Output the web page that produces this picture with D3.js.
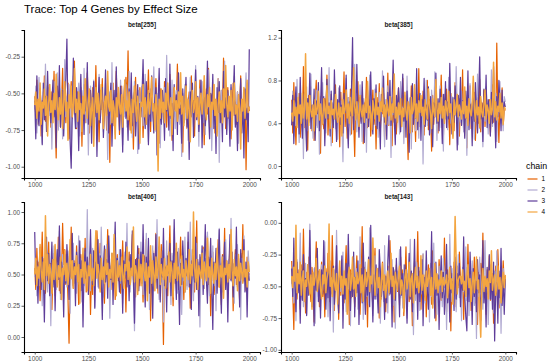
<!DOCTYPE html>
<html><head><meta charset="utf-8">
<script src="https://cdn.jsdelivr.net/npm/d3@7"></script>
<style>body{margin:0;background:#fff}svg{display:block}text{font-family:"Liberation Sans",Arial,sans-serif}</style>
</head><body><svg id="c" width="550" height="363"></svg>
<script>
// ---- data ----
const chartTitle = "Trace: Top 4 Genes by Effect Size";
const parameters = ["beta[255]", "beta[385]", "beta[406]", "beta[143]"];
const chains = ["1", "2", "3", "4"];
const chainColors = ["#e66101", "#b2abd2", "#5e3c99", "#f3a540"];
const iterationRange = [1000, 2000];
const xTicks = [1000, 1250, 1500, 1750, 2000];
const yTicks255 = [-1.00, -0.75, -0.50, -0.25];
const yTicks385 = [0.0, 0.4, 0.8, 1.2];
const yTicks406 = [0.00, 0.25, 0.50, 0.75, 1.00];
const yTicks143 = [-1.00, -0.75, -0.50, -0.25, 0.00];
const yLimits255 = [-1.077, -0.068];
const yLimits385 = [-0.112, 1.272];
const yLimits406 = [-0.12, 1.08];
const yLimits143 = [-1.017, 0.164];

const beta255_c1 = [-0.52,-0.66,-0.41,-0.71,-0.58,-0.47,-0.79,-0.55,-0.62,-0.38,-0.69,-0.50,-0.44,-0.64,-0.57,-0.73,-0.49,-0.61,-0.35,-0.67,
-0.94,-0.51,-0.60,-0.45,-0.73,-0.57,-0.33,-0.64,-0.50,-0.70,-0.55,-0.43,-0.81,-0.59,-0.42,-0.67,-0.55,-0.28,-0.62,-0.74,
-0.49,-0.58,-0.65,-0.46,-0.86,-0.53,-0.44,-0.70,-0.61,-0.36,-0.57,-0.77,-0.50,-0.63,-0.46,-0.71,-0.59,-0.31,-0.66,-0.54,
-0.83,-0.48,-0.61,-0.40,-0.68,-0.56,-0.52,-0.75,-0.45,-0.60,-0.97,-0.52,-0.64,-0.43,-0.72,-0.59,-0.35,-0.61,-0.50,-0.78,
-0.57,-0.45,-0.69,-0.53,-0.62,-0.39,-0.58,-0.21,-0.63,-0.75,-0.48,-0.60,-0.88,-0.54,-0.39,-0.66,-0.57,-0.71,-0.46,-0.62,
-0.52,-0.80,-0.58,-0.43,-0.67,-0.55,-0.34,-0.63,-0.76,-0.49,-0.59,-0.72,-0.51,-0.40,-0.65,-0.58,-0.84,-0.47,-0.61,-0.55,
-0.68,-0.42,-0.57,-0.73,-0.50,-0.64,-0.37,-0.59,-0.82,-0.53,-0.46,-0.66,-0.56,-0.30,-0.61,-0.70,-0.48,-0.58,-0.90,-0.52,
-0.63,-0.44,-0.74,-0.57,-0.49,-0.67,-0.38,-0.60,-0.55,-0.79,-0.45,-0.62,-0.53,-0.71,-0.41,-0.58,-0.66,-0.50,-0.85,-0.56,
-0.47,-0.64,-0.33,-0.59,-0.72,-0.51,-0.61,-0.44,-0.77,-0.54,-0.62,-0.40,-0.57,-0.69,-0.48,-0.63,-0.26,-0.55,-0.74,-0.58,
-0.46,-0.67,-0.52,-0.81,-0.60,-0.43,-0.65,-0.56,-0.71,-0.49,-0.59,-0.62,-0.38,-0.66,-0.54,-0.75,-0.47,-1.02,-0.61,-0.57,-0.62];
const beta255_c2 = [-0.61,-0.45,-0.77,-0.53,-0.39,-0.68,-0.57,-0.84,-0.49,-0.63,-0.30,-0.58,-0.72,-0.46,-0.65,-0.55,-0.88,-0.51,-0.42,-0.69,
-0.60,-0.36,-0.75,-0.54,-0.62,-0.47,-0.81,-0.58,-0.27,-0.66,-0.52,-0.71,-0.44,-0.59,-0.90,-0.56,-0.38,-0.64,-0.50,-0.73,
-0.57,-0.43,-0.79,-0.61,-0.48,-0.67,-0.33,-0.58,-0.70,-0.53,-0.92,-0.60,-0.45,-0.74,-0.56,-0.41,-0.65,-0.51,-0.82,-0.59,
-0.37,-0.68,-0.54,-0.47,-0.76,-0.62,-0.43,-0.57,-0.95,-0.63,-0.49,-0.71,-0.29,-0.60,-0.55,-0.78,-0.46,-0.64,-0.52,-0.69,
-0.41,-0.58,-0.85,-0.53,-0.66,-0.44,-0.73,-0.57,-0.35,-0.62,-0.50,-0.80,-0.59,-0.42,-0.68,-0.56,-0.91,-0.48,-0.63,-0.54,
-0.45,-0.72,-0.58,-0.37,-0.65,-0.51,-0.83,-0.60,-0.47,-0.69,-0.55,-0.32,-0.63,-0.76,-0.50,-0.58,-0.43,-0.87,-0.61,-0.53,
-0.70,-0.46,-0.57,-0.24,-0.64,-0.52,-0.79,-0.59,-0.41,-0.67,-0.55,-0.74,-0.48,-0.62,-0.36,-0.71,-0.56,-0.93,-0.50,-0.60,
-0.44,-0.68,-0.53,-0.82,-0.58,-0.39,-0.65,-0.49,-0.73,-0.57,-0.31,-0.63,-0.54,-0.86,-0.47,-0.61,-0.42,-0.70,-0.56,-0.78,
-0.51,-0.60,-0.34,-0.66,-0.52,-0.89,-0.58,-0.45,-0.72,-0.55,-0.64,-0.40,-0.97,-0.59,-0.48,-0.69,-0.53,-0.28,-0.62,-0.75,
-0.50,-0.57,-0.81,-0.46,-0.65,-0.54,-0.38,-0.71,-0.59,-0.49,-0.84,-0.61,-0.43,-0.67,-0.55,-0.77,-0.52,-0.36,-0.63,-0.58,-0.60];
const beta255_c3 = [-0.55,-0.81,-0.38,-0.64,-0.72,-0.47,-0.59,-0.85,-0.43,-0.68,-0.52,-0.76,-0.35,-0.62,-0.49,-0.70,-0.56,-0.41,-0.66,-0.54,
-0.87,-0.45,-0.61,-0.31,-0.73,-0.58,-0.48,-0.79,-0.57,-0.40,-0.13,-0.68,-0.55,-0.83,-1.01,-0.63,-0.26,-0.60,-0.74,-0.46,
-0.58,-0.89,-0.53,-0.37,-0.67,-0.55,-0.78,-0.44,-0.62,-0.29,-0.71,-0.57,-0.48,-0.84,-0.60,-0.42,-0.66,-0.52,-0.93,-0.58,
-0.39,-0.70,-0.55,-0.46,-0.80,-0.61,-0.34,-0.64,-0.50,-0.77,-0.57,-0.43,-0.86,-0.59,-0.48,-0.69,-0.32,-0.63,-0.54,-0.75,
-0.45,-0.60,-0.90,-0.53,-0.41,-0.67,-0.58,-0.82,-0.47,-0.62,-0.36,-0.72,-0.55,-0.49,-0.79,-0.61,-0.44,-0.88,-0.57,-0.66,
-0.51,-0.27,-0.63,-0.74,-0.42,-0.58,-0.85,-0.50,-0.69,-0.38,-0.60,-0.77,-0.53,-0.46,-0.92,-0.56,-0.33,-0.65,-0.71,-0.48,
-0.59,-0.82,-0.40,-0.62,-0.54,-0.75,-0.30,-0.67,-0.57,-0.89,-0.44,-0.61,-0.51,-0.78,-0.36,-0.64,-0.58,-0.84,-0.47,-0.70,
-0.55,-0.39,-0.73,-0.60,-0.95,-0.49,-0.66,-0.43,-0.80,-0.56,-0.34,-0.68,-0.52,-0.76,-0.62,-0.41,-0.87,-0.58,-0.45,-0.72,
-0.57,-0.28,-0.64,-0.81,-0.50,-0.60,-0.37,-0.74,-0.54,-0.91,-0.46,-0.63,-0.42,-0.70,-0.59,-0.83,-0.35,-0.66,-0.53,-0.78,
-0.48,-0.61,-0.86,-0.44,-0.69,-0.56,-0.31,-0.73,-0.58,-0.89,-0.51,-0.64,-0.40,-0.77,-0.55,-0.94,-0.47,-0.68,-0.60,-0.83,-0.20];
const beta255_c4 = [-0.58,-0.49,-0.67,-0.54,-0.62,-0.43,-0.71,-0.56,-0.60,-0.47,-0.65,-0.52,-0.79,-0.57,-0.44,-0.63,-0.55,-0.70,-0.50,-0.61,
-0.37,-0.59,-0.68,-0.53,-0.64,-0.48,-0.74,-0.57,-0.42,-0.62,-0.56,-0.82,-0.51,-0.60,-0.45,-0.66,-0.58,-0.33,-0.63,-0.54,
-0.69,-0.49,-0.61,-0.57,-0.76,-0.52,-0.64,-0.40,-0.59,-0.67,-0.55,-0.47,-0.72,-0.60,-0.53,-0.86,-0.58,-0.46,-0.63,-0.50,
-0.68,-0.56,-0.44,-0.61,-0.74,-0.57,-0.52,-0.65,-0.35,-0.59,-0.62,-0.48,-0.70,-0.55,-0.60,-0.81,-0.53,-0.66,-0.46,-0.58,
-0.64,-0.51,-0.73,-0.57,-0.41,-0.62,-0.55,-0.68,-0.49,-0.60,-0.77,-0.54,-0.63,-0.45,-0.58,-0.69,-0.52,-0.61,-0.84,-0.56,
-0.59,-0.44,-0.66,-0.53,-0.71,-0.58,-0.48,-0.64,-0.55,-0.39,-0.62,-0.57,-0.75,-0.51,-0.60,-1.03,-0.54,-0.67,-0.47,-0.63,
-0.56,-0.70,-0.50,-0.61,-0.43,-0.58,-0.65,-0.53,-0.78,-0.57,-0.46,-0.62,-0.55,-0.69,-0.49,-0.60,-0.36,-0.64,-0.52,-0.72,
-0.58,-0.45,-0.67,-0.54,-0.61,-0.83,-0.56,-0.48,-0.63,-0.59,-0.42,-0.66,-0.53,-0.71,-0.57,-0.50,-0.64,-0.55,-0.38,-0.62,
-0.68,-0.51,-0.59,-0.46,-0.73,-0.56,-0.61,-0.44,-0.65,-0.54,-0.79,-0.58,-0.49,-0.63,-0.55,-0.70,-0.47,-0.60,-0.31,-0.57,
-0.66,-0.52,-0.62,-0.48,-0.75,-0.56,-0.43,-0.64,-0.58,-0.69,-0.51,-0.60,-0.88,-0.54,-0.62,-0.46,-0.67,-0.57,-0.41,-0.63,-0.59];

const beta385_c1 = [0.62,0.31,0.78,0.45,0.20,0.55,0.39,0.68,0.27,0.50,0.41,0.93,0.36,0.59,0.48,0.15,0.66,0.43,0.74,0.33,
0.52,0.24,0.61,0.80,0.38,0.47,0.57,0.12,0.70,0.44,0.35,0.63,0.49,0.85,0.29,0.54,0.41,0.67,0.22,0.58,
0.46,0.76,0.32,0.60,0.51,0.18,0.69,0.40,0.57,0.88,0.37,0.53,0.26,0.64,0.45,0.72,0.30,0.56,0.43,0.09,
0.61,0.48,0.79,0.34,0.55,0.42,0.66,0.21,0.59,0.47,0.83,0.36,0.52,0.62,0.28,0.50,0.71,0.39,0.57,0.16,
0.64,0.44,0.77,0.33,0.58,0.49,0.68,0.25,0.53,0.42,0.87,0.38,0.60,0.47,0.19,0.65,0.41,0.56,0.30,0.52,
0.73,0.35,0.59,0.46,0.82,0.27,0.54,0.63,0.40,0.06,0.57,0.45,0.75,0.32,0.61,0.50,0.23,0.67,0.43,0.91,
0.37,0.55,0.48,0.70,0.29,0.58,0.44,0.80,0.34,0.62,0.51,0.14,0.66,0.39,0.57,0.74,0.46,0.31,0.60,0.53,
0.85,0.41,0.26,0.64,0.49,0.72,0.36,0.56,0.20,0.68,0.45,0.59,0.33,0.78,0.52,0.42,0.63,0.28,0.57,0.47,
0.90,0.38,0.61,0.50,0.17,0.66,0.43,0.75,0.35,0.58,0.46,0.69,0.24,0.55,0.64,0.40,0.81,0.32,0.59,0.48,
0.71,0.37,0.62,0.53,0.44,0.62,0.29,0.56,0.76,0.41,0.58,0.34,1.15,0.49,0.22,0.60,0.45,0.73,0.38,0.54,0.52];
const beta385_c2 = [0.45,0.70,0.28,0.57,0.38,0.81,0.50,0.22,0.63,0.42,0.55,0.07,0.67,0.46,0.74,0.33,0.58,0.41,0.86,0.49,
0.26,0.60,0.44,0.71,0.36,0.53,0.11,0.65,0.48,0.78,0.40,0.56,0.31,0.62,0.45,0.92,0.51,0.19,0.59,0.43,
0.68,0.35,0.54,0.25,0.73,0.47,0.61,0.39,0.04,0.57,0.50,0.82,0.37,0.64,0.46,0.29,0.70,0.52,0.41,0.95,
0.55,0.32,0.60,0.44,0.76,0.49,0.23,0.63,0.40,0.58,0.13,0.66,0.47,0.85,0.53,0.34,0.61,0.45,0.72,0.38,
0.56,0.27,0.69,0.50,0.43,0.89,0.54,0.18,0.62,0.46,0.75,0.39,0.58,0.08,0.64,0.48,0.71,0.35,0.57,0.42,
0.60,0.30,0.79,0.47,0.55,0.21,0.66,0.44,0.84,0.51,0.37,0.63,0.16,0.58,0.45,0.73,0.33,0.61,0.49,0.26,
0.68,0.42,0.56,0.02,0.64,0.50,0.80,0.38,0.59,0.46,0.31,0.71,0.53,0.43,0.88,0.57,0.24,0.62,0.48,0.75,
0.36,0.55,0.14,0.67,0.44,0.60,0.34,0.83,0.52,0.40,0.65,0.28,0.58,0.47,0.93,0.54,0.20,0.63,0.41,0.70,
0.49,0.32,0.61,0.56,0.10,0.66,0.45,0.77,0.39,0.59,0.51,0.25,0.69,0.43,0.86,0.55,0.35,0.62,0.47,0.18,
0.64,0.42,0.74,0.53,0.30,0.60,0.48,0.90,0.37,0.57,0.44,0.68,0.23,0.61,0.50,0.79,0.40,0.56,0.33,0.65,0.60];
const beta385_c3 = [0.38,0.66,0.21,0.55,0.74,0.43,0.60,0.30,0.83,0.47,0.26,0.58,0.69,0.40,0.14,0.63,0.51,0.87,0.35,0.57,
0.45,0.72,0.24,0.61,0.49,0.78,0.33,0.56,0.92,0.42,0.65,0.19,0.53,0.81,0.44,0.59,0.28,0.70,0.48,0.36,
0.90,0.52,0.23,0.62,0.46,0.75,0.39,0.57,0.31,0.68,0.50,0.85,0.41,0.17,0.60,0.47,0.73,1.20,0.34,0.58,
0.44,0.95,0.53,0.27,0.64,0.40,0.79,0.49,0.22,0.61,0.45,0.71,0.37,0.56,0.88,0.43,0.30,0.63,0.51,0.76,
0.35,0.59,0.46,0.16,0.67,0.52,0.84,0.41,0.57,0.25,0.69,0.48,0.80,0.38,0.62,0.99,0.44,0.20,0.66,0.50,
0.73,0.55,0.32,0.61,0.86,0.42,0.58,0.27,0.70,0.47,0.13,0.64,0.53,0.77,0.39,0.60,0.45,0.91,0.34,0.56,
0.68,0.24,0.62,0.49,0.82,0.37,0.57,0.43,0.74,0.29,0.65,0.51,0.18,0.59,0.46,0.87,0.40,0.63,0.33,0.72,
0.54,0.21,0.67,0.48,0.79,0.36,0.60,0.44,0.96,0.52,0.30,0.64,0.41,0.75,0.57,0.15,0.66,0.47,0.83,0.38,
0.61,0.50,0.26,0.70,0.45,0.89,0.34,0.58,0.53,0.19,0.68,0.42,0.78,0.49,0.31,0.63,1.02,0.44,0.59,0.23,
0.72,0.47,0.85,0.36,0.62,0.55,0.28,0.69,0.40,0.93,0.51,0.17,0.65,0.46,0.80,0.58,0.33,0.71,0.43,0.60,0.55];
const beta385_c4 = [0.50,0.42,0.61,0.47,0.55,0.36,0.64,0.49,0.57,0.40,0.68,0.45,0.53,1.05,0.44,0.59,0.38,0.66,0.51,0.46,
0.57,0.33,0.62,0.48,0.54,0.70,0.43,0.58,0.47,0.39,0.63,0.52,0.45,0.75,0.49,0.56,0.35,0.61,0.48,0.53,
0.44,0.67,0.50,0.41,0.59,0.46,0.55,0.28,0.62,0.49,0.53,0.71,0.45,0.58,0.40,0.64,0.51,0.47,0.92,0.55,
0.43,0.60,0.48,0.37,0.66,0.52,0.46,0.57,0.41,0.63,0.50,0.79,0.45,0.56,0.49,0.34,0.61,0.53,0.44,0.68,
0.48,0.55,0.42,0.60,0.51,0.73,0.46,0.57,0.39,0.62,0.52,0.47,0.65,0.43,0.58,0.50,0.86,0.45,0.55,0.41,
0.59,0.48,0.63,0.37,0.54,0.46,0.69,0.51,0.43,0.60,0.56,0.31,0.64,0.49,0.53,0.76,0.45,0.58,0.42,0.61,
0.50,0.66,0.47,0.55,0.39,0.62,0.52,0.44,0.72,0.57,0.48,0.35,0.63,0.51,0.46,0.81,0.54,0.42,0.59,0.49,
0.64,0.45,0.56,0.40,0.61,0.53,0.47,0.70,0.50,0.58,0.43,0.26,0.62,0.48,0.55,0.67,0.46,0.57,0.52,0.44,
0.60,0.49,0.74,0.45,0.56,0.38,0.63,0.51,0.47,0.59,0.84,0.53,0.42,0.61,0.48,0.55,0.36,0.65,0.50,0.46,
0.58,0.71,0.44,0.57,0.52,0.40,0.62,0.48,0.54,0.97,0.46,0.60,0.43,0.56,0.51,0.68,0.45,0.59,0.39,0.55,0.53];

const beta406_c1 = [0.55,0.38,0.71,0.46,0.60,0.29,0.52,0.84,0.43,0.63,0.35,0.57,0.48,0.76,0.40,0.59,0.22,0.51,0.67,0.33,
0.54,0.45,0.80,0.37,0.62,0.49,0.91,0.58,0.70,0.42,0.56,0.31,-0.05,0.47,0.88,0.53,0.39,0.61,0.44,0.73,
0.50,0.26,0.57,0.66,0.41,0.59,0.48,0.79,0.36,0.55,0.46,0.63,0.18,0.52,0.34,0.69,0.43,0.58,0.85,0.61,
0.49,0.75,0.40,0.56,0.47,0.27,0.64,0.51,0.86,0.44,0.57,0.38,0.62,0.48,0.72,0.30,0.54,0.66,0.45,0.59,
0.35,0.51,0.77,0.43,0.60,0.20,0.56,0.47,0.68,0.39,0.58,0.82,0.46,0.53,0.32,0.63,0.49,0.71,0.41,0.57,
0.50,0.28,0.65,0.44,0.78,0.37,0.55,0.61,0.13,0.52,0.69,0.42,0.58,0.83,0.47,0.35,0.62,0.50,0.74,0.40,
-0.06,0.57,0.45,0.67,0.33,0.60,0.89,0.48,0.54,0.25,0.63,0.43,0.71,0.52,0.38,0.59,0.80,0.46,0.56,0.30,
0.65,0.49,0.41,0.76,0.55,0.23,0.61,0.47,0.69,0.36,0.58,0.93,0.44,0.53,0.31,0.64,0.50,0.72,0.39,0.57,
0.47,0.81,0.42,0.60,0.17,0.55,0.68,0.45,0.34,0.62,0.51,0.78,0.40,0.57,0.26,0.66,0.48,0.87,0.43,0.59,
0.36,0.53,0.74,0.46,0.61,0.21,0.56,0.70,0.42,0.63,0.49,0.29,0.67,0.52,0.90,0.45,0.58,0.37,0.64,0.51,0.50];
const beta406_c2 = [0.48,0.62,0.33,0.57,0.41,0.70,0.53,0.25,0.60,0.44,0.78,0.50,0.36,0.64,0.47,0.09,0.58,0.42,0.73,0.55,
0.38,0.61,0.49,0.85,0.30,0.45,0.66,0.31,0.57,0.51,0.40,0.69,0.54,0.19,0.62,0.46,0.75,0.43,0.59,0.35,
0.52,0.81,0.47,0.63,0.28,0.56,0.41,0.68,0.50,1.02,0.44,0.60,0.37,0.57,0.71,0.48,0.24,0.64,0.53,0.40,
0.67,0.46,0.88,0.55,0.32,0.61,0.49,0.74,0.42,0.58,0.15,0.52,0.65,0.45,0.79,0.56,0.38,0.63,0.47,0.70,
0.43,0.59,0.27,0.54,0.68,0.50,0.91,0.46,0.61,0.36,0.57,0.72,0.44,0.05,0.62,0.51,0.39,0.66,0.48,0.76,
0.53,0.34,0.60,0.45,0.83,0.41,0.58,0.22,0.65,0.49,0.73,0.37,0.56,0.47,0.94,0.52,0.30,0.63,0.44,0.69,
0.12,0.57,0.50,0.77,0.40,0.61,0.46,0.26,0.67,0.54,0.86,0.43,0.59,0.35,0.71,0.48,0.62,0.18,0.55,0.45,
0.80,0.51,0.38,0.64,0.47,0.92,0.42,0.58,0.29,0.66,0.53,0.75,0.44,0.60,0.08,0.56,0.49,0.70,0.39,0.63,
0.46,0.84,0.52,0.33,0.61,0.45,0.73,0.41,0.57,0.21,0.68,0.50,0.87,0.43,0.59,0.36,0.64,0.48,0.78,0.54,
0.31,0.62,0.47,0.95,0.44,0.58,0.27,0.66,0.51,0.74,0.40,0.56,0.14,0.63,0.49,0.81,0.45,0.60,0.37,0.69,0.53];
const beta406_c3 = [0.84,0.42,0.61,0.27,0.55,0.72,0.38,0.64,0.49,0.12,0.58,0.80,0.45,0.67,0.33,0.53,0.76,0.40,0.62,0.21,
0.57,0.70,0.46,0.89,0.35,0.60,0.51,0.16,0.66,0.43,0.74,0.56,0.30,0.63,0.48,0.83,0.41,0.59,0.25,0.68,
0.52,0.44,0.77,0.37,0.61,0.08,0.55,0.71,0.47,0.64,0.34,0.58,0.86,0.50,0.42,0.69,0.23,0.60,0.53,0.78,
0.39,0.65,0.48,0.14,0.57,0.73,0.44,0.62,0.31,0.81,0.54,0.46,0.67,0.26,0.59,0.92,0.43,0.63,0.51,0.36,
0.70,0.55,0.19,0.61,0.47,0.76,0.40,0.58,0.29,0.66,0.52,0.85,0.45,0.11,0.62,0.49,0.73,0.37,0.57,0.68,
0.43,0.90,0.50,0.24,0.64,0.46,0.79,0.35,0.60,0.53,0.15,0.67,0.44,0.82,0.39,0.58,0.72,0.28,0.63,0.48,
0.87,0.41,0.56,0.20,0.65,0.51,0.75,0.33,0.61,0.45,0.94,0.54,0.30,0.68,0.47,0.10,0.59,0.42,0.77,0.55,
0.36,0.63,0.49,0.84,0.40,0.57,0.22,0.70,0.52,0.44,0.80,0.38,0.62,0.17,0.66,0.48,0.73,0.34,0.58,0.90,
0.46,0.27,0.64,0.53,0.79,0.41,0.06,0.60,0.50,0.71,0.35,0.57,0.86,0.43,0.19,0.65,0.49,0.76,0.38,0.61,
0.12,0.55,0.82,0.45,0.68,0.32,0.59,0.47,0.88,0.40,0.63,0.24,0.70,0.51,0.44,0.78,0.36,0.60,0.16,0.57,0.45];
const beta406_c4 = [0.50,0.63,0.41,0.56,0.47,0.74,0.53,0.44,0.60,0.38,0.97,0.49,0.66,0.43,0.58,0.51,0.35,0.62,0.46,0.74,
0.52,0.40,0.57,0.48,0.64,0.30,0.55,0.50,0.69,0.45,0.59,0.42,0.53,0.78,0.47,0.61,0.39,0.56,0.50,0.65,
0.44,0.58,0.27,0.54,0.48,0.71,0.43,0.60,0.52,0.37,0.57,0.49,0.66,0.45,0.55,0.41,0.62,0.85,0.47,0.58,
0.51,0.36,0.63,0.46,0.56,0.43,0.70,0.50,0.59,0.40,0.54,0.47,0.67,0.44,0.82,0.52,0.33,0.61,0.48,0.57,
0.45,0.64,0.50,0.39,0.58,0.53,0.72,0.46,0.60,0.42,0.55,0.49,0.88,0.44,0.57,0.51,0.34,0.62,0.47,0.58,
0.41,0.66,0.52,0.45,0.59,0.29,0.56,0.48,0.73,0.43,0.61,0.50,0.37,0.64,0.47,0.55,0.80,0.42,0.58,0.51,
0.46,0.63,0.39,0.57,0.49,0.68,0.44,0.60,0.53,0.32,0.59,0.47,0.75,0.45,0.56,0.50,0.41,0.65,0.48,0.54,
0.36,0.61,0.52,0.46,0.70,0.43,0.58,0.49,1.00,0.55,0.44,0.62,0.38,0.57,0.51,0.47,0.67,0.42,0.60,0.53,
0.45,0.79,0.48,0.56,0.35,0.63,0.50,0.43,0.59,0.46,0.71,0.52,0.40,0.57,0.48,0.64,0.31,0.55,0.50,0.61,
0.44,0.58,0.47,0.86,0.53,0.41,0.62,0.49,0.56,0.37,0.66,0.45,0.59,0.51,0.43,0.69,0.48,0.54,0.40,0.60,0.52];

const beta143_c1 = [-0.30,-0.55,-0.84,-0.41,-0.22,-0.60,-0.37,-0.48,-0.68,-0.33,-0.52,-0.05,-0.44,-0.71,-0.39,-0.57,-0.27,-0.49,-0.62,-0.35,
-0.46,-0.78,-0.41,-0.15,-0.53,-0.38,-0.66,-0.45,-0.31,-0.58,-0.43,-0.74,-0.36,-0.51,-0.24,-0.62,-0.40,-0.55,-0.10,-0.47,
-0.69,-0.34,-0.52,-0.42,-0.76,-0.38,-0.57,-0.29,-0.48,-0.63,-0.40,-0.18,-0.54,-0.45,-0.80,-0.37,-0.59,-0.32,-0.50,-0.66,
-0.43,-0.26,-0.56,-0.39,-0.72,-0.47,-0.03,-0.53,-0.35,-0.61,-0.44,-0.82,-0.38,-0.55,-0.28,-0.49,-0.67,-0.41,-0.20,-0.58,
-0.46,-0.36,-0.75,-0.43,-0.60,-0.31,-0.52,-0.40,-0.70,-0.47,-0.34,-0.57,-0.14,-0.45,-0.63,-0.39,-0.78,-0.50,-0.33,-0.54,
-0.42,-0.65,-0.27,-0.51,-0.37,-0.73,-0.44,-0.19,-0.58,-0.40,-0.62,-0.35,-0.49,-0.81,-0.43,-0.30,-0.56,-0.46,-0.07,-0.53,
-0.38,-0.68,-0.45,-0.25,-0.59,-0.41,-0.74,-0.48,-0.33,-0.55,-0.42,-0.64,-0.22,-0.50,-0.36,-0.77,-0.44,-0.57,-0.29,-0.47,
-0.61,-0.39,-0.52,-0.12,-0.46,-0.70,-0.37,-0.54,-0.43,-0.85,-0.40,-0.58,-0.31,-0.49,-0.66,-0.34,-0.51,-0.23,-0.45,-0.60,
-0.41,-0.76,-0.48,-0.35,-0.56,-0.17,-0.50,-0.42,-0.69,-0.38,-0.53,-0.27,-0.63,-0.46,-0.80,-0.39,-0.55,-0.32,-0.47,-0.08,
-0.58,-0.43,-0.72,-0.37,-0.52,-0.26,-0.61,-0.45,-0.40,-0.79,-0.49,-0.34,-0.56,-0.21,-0.44,-0.67,-0.41,-0.53,-0.30,-0.48,-0.42];
const beta143_c2 = [-0.48,-0.34,-0.63,-0.41,-0.77,-0.29,-0.52,-0.44,-0.08,-0.57,-0.38,-0.66,-0.46,-0.32,-0.72,-0.50,-0.40,-0.01,-0.55,-0.43,
-0.61,-0.36,-0.79,-0.47,-0.27,-0.58,-0.42,-0.69,-0.33,-0.53,-0.45,-0.15,-0.60,-0.39,-0.74,-0.49,-0.30,-0.56,-0.44,-0.86,
-0.37,-0.51,-0.06,-0.43,-0.65,-0.35,-0.54,-0.47,-0.23,-0.59,-0.41,-0.70,-0.33,-0.52,-0.46,-0.81,-0.38,-0.57,-0.28,-0.62,
-0.44,-0.36,-0.68,-0.49,-0.11,-0.55,-0.40,-0.76,-0.45,-0.31,-0.58,-0.42,-0.64,-0.04,-0.51,-0.37,-0.73,-0.46,-0.26,-0.60,
-0.43,-0.54,-0.35,-0.79,-0.48,-0.39,-0.62,-0.18,-0.56,-0.44,-0.71,-0.36,-0.53,-0.47,-0.29,-0.65,-0.41,-0.83,-0.50,-0.38,
-0.45,-0.21,-0.59,-0.42,-0.67,-0.33,-0.54,-0.48,-0.75,-0.37,-0.57,-0.13,-0.50,-0.44,-0.88,-0.40,-0.61,-0.31,-0.52,-0.46,
-0.69,-0.35,-0.56,-0.24,-0.47,-0.63,-0.39,-0.53,-0.43,-0.78,-0.32,-0.58,-0.45,-0.16,-0.60,-0.41,-0.72,-0.49,-0.34,-0.55,
-0.42,-0.66,-0.28,-0.51,-0.38,-0.84,-0.46,-0.57,-0.09,-0.44,-0.62,-0.36,-0.53,-0.40,-0.70,-0.48,-0.25,-0.59,-0.43,-0.77,
-0.35,-0.54,-0.47,-0.19,-0.61,-0.42,-0.73,-0.39,-0.56,-0.30,-0.50,-0.65,-0.44,-0.91,-0.37,-0.58,-0.27,-0.52,-0.46,-0.68,
-0.40,-0.14,-0.55,-0.43,-0.80,-0.48,-0.33,-0.60,-0.45,-0.71,-0.38,-0.57,-0.22,-0.50,-0.64,-0.41,-0.87,-0.47,-0.36,-0.53,-0.45];
const beta143_c3 = [-0.36,-0.58,-0.12,-0.47,-0.70,-0.31,-0.55,-0.42,-0.79,-0.38,-0.61,-0.25,-0.50,-0.44,-0.73,-0.33,-0.57,-0.06,-0.48,-0.66,
-0.40,-0.81,-0.35,-0.53,-0.20,-0.62,-0.45,-0.75,-0.37,-0.56,-0.14,-0.49,-0.68,-0.39,-0.59,-0.28,-0.77,-0.43,-0.52,-0.34,
-0.64,-0.46,-0.18,-0.57,-0.71,-0.38,-0.50,-0.26,-0.83,-0.44,-0.60,-0.32,-0.53,-0.09,-0.47,-0.69,-0.40,-0.58,-0.23,-0.74,
-0.43,-0.55,-0.30,-0.80,-0.46,-0.36,-0.63,-0.16,-0.51,-0.72,-0.39,-0.57,-0.27,-0.66,-0.02,-0.48,-0.78,-0.41,-0.60,-0.33,
-0.54,-0.71,-0.21,-0.37,-0.58,-0.45,-0.49,-0.76,-0.42,-0.63,-0.30,-0.10,-0.56,-0.45,-0.82,-0.35,-0.39,-0.61,-0.28,-0.52,
-0.44,-0.74,-0.19,-0.57,-0.40,-0.67,-0.33,-0.54,-0.79,-0.46,-0.24,-0.60,-0.38,-0.70,-0.49,-0.13,-0.56,-0.42,-0.76,-0.35,
-0.62,-0.47,-0.29,-0.81,-0.43,-0.58,-0.22,-0.53,-0.68,-0.37,-0.50,-0.07,-0.64,-0.45,-0.75,-0.31,-0.57,-0.41,-0.84,-0.48,
-0.26,-0.59,-0.39,-0.72,-0.52,-0.17,-0.63,-0.44,-0.78,-0.34,-0.55,-0.46,-0.69,-0.27,-0.60,-0.40,-0.49,-0.32,-0.66,-0.43,
-0.53,-0.11,-0.57,-0.74,-0.85,-0.38,-0.62,-0.23,-0.47,-0.80,-0.36,-0.58,-0.44,-0.70,-0.29,-0.55,-0.41,-0.77,-0.50,-0.14,
-0.63,-0.46,-0.82,-0.35,-0.56,-0.25,-0.60,-0.42,-0.68,-0.31,-0.93,-0.52,-0.47,-0.79,-0.38,-0.59,-0.20,-0.65,-0.44,-0.72,-0.44];
const beta143_c4 = [-0.42,-0.51,-0.35,-0.46,-0.02,-0.55,-0.40,-0.48,-0.31,-0.57,-0.44,-0.38,-0.62,-0.45,-0.50,-0.33,-0.47,-0.56,-0.41,-0.68,
-0.39,-0.49,-0.43,-0.28,-0.54,-0.46,-0.37,-0.52,-0.60,-0.41,-0.48,-0.34,-0.55,-0.44,-0.39,-0.01,-0.50,-0.43,-0.58,-0.36,
-0.47,-0.53,-0.40,-0.64,-0.45,-0.30,-0.51,-0.42,-0.56,-0.38,-0.49,-0.44,-0.72,-0.41,-0.35,-0.53,-0.46,-0.27,-0.52,-0.43,
-0.58,-0.39,-0.48,-0.45,-0.33,-0.55,-0.41,-0.62,-0.47,-0.37,-0.50,-0.44,-0.29,-0.54,-0.42,-0.48,-0.12,-0.40,-0.57,-0.46,
-0.36,-0.51,-0.43,-0.66,-0.45,-0.32,-0.53,-0.41,-0.59,-0.48,-0.38,-0.55,-0.44,-0.24,-0.50,-0.42,-0.60,-0.39,-0.47,-0.53,
-0.41,-0.34,-0.56,-0.45,-0.49,-0.70,-0.43,-0.37,-0.52,-0.46,-0.31,-0.58,-0.44,-0.40,-0.63,-0.47,-0.35,-0.51,-0.42,-0.55,
-0.46,-0.26,-0.53,-0.41,-0.48,-0.61,-0.38,-0.50,-0.44,-0.36,-0.57,-0.43,-0.67,-0.47,-0.32,-0.52,-0.40,-0.55,-0.45,-0.49,
-0.38,-0.54,-0.43,-0.49,-0.47,-0.41,-0.59,-0.46,-0.35,-0.52,-0.44,-0.64,-0.40,0.05,-0.30,-0.56,-0.45,-0.42,-0.42,-0.48,
-0.37,-0.53,-0.46,-0.58,-0.41,-0.33,-0.51,-0.44,-0.62,-0.47,-0.39,-0.55,-0.43,-0.27,-0.52,-0.45,-0.69,-0.90,-0.48,-0.36,
-0.54,-0.42,-0.50,-0.44,-0.60,-0.38,-0.47,-0.22,-0.53,-0.45,-0.41,-0.57,-0.49,-0.34,-0.52,-0.43,-0.63,-0.46,-0.39,-0.51,-0.41];

// ---- layout ----
const panels = [
  {name: parameters[0], series: [beta255_c1, beta255_c2, beta255_c3, beta255_c4], yTicks: yTicks255, yLim: yLimits255, fmt: ".2f", x0: 24, x1: 260, y0: 30, y1: 178},
  {name: parameters[1], series: [beta385_c1, beta385_c2, beta385_c3, beta385_c4], yTicks: yTicks385, yLim: yLimits385, fmt: ".1f", x0: 281, x1: 516, y0: 30, y1: 178},
  {name: parameters[2], series: [beta406_c1, beta406_c2, beta406_c3, beta406_c4], yTicks: yTicks406, yLim: yLimits406, fmt: ".2f", x0: 24, x1: 260, y0: 202, y1: 352},
  {name: parameters[3], series: [beta143_c1, beta143_c2, beta143_c3, beta143_c4], yTicks: yTicks143, yLim: yLimits143, fmt: ".2f", x0: 281, x1: 516, y0: 202, y1: 352}
];

const locale = d3.formatLocale({decimal: ".", thousands: ",", grouping: [3], currency: ["$", ""], minus: "-"});
const svg = d3.select("#c");

svg.append("text").attr("x", 24).attr("y", 13).attr("font-size", 11.5).attr("fill", "#000").text(chartTitle);

panels.forEach(p => {
  const pad = (iterationRange[1] - iterationRange[0]) * 0.05;
  const x = d3.scaleLinear().domain([iterationRange[0] - pad, iterationRange[1] + pad]).range([p.x0, p.x1]);
  const y = d3.scaleLinear().domain(p.yLim).range([p.y1, p.y0]);
  const g = svg.append("g");
  const clipId = "clip" + p.name.replace(/\W/g, "");
  g.append("clipPath").attr("id", clipId).append("rect").attr("x", p.x0).attr("y", p.y0).attr("width", p.x1 - p.x0).attr("height", p.y1 - p.y0);
  const plot = g.append("g").attr("clip-path", `url(#${clipId})`);
  p.series.forEach((vals, ci) => {
    const n = vals.length;
    const line = d3.line()
      .x((d, i) => x(iterationRange[0] + i * (iterationRange[1] - iterationRange[0]) / (n - 1)))
      .y(d => y(d));
    plot.append("path").attr("d", line(vals)).attr("fill", "none")
      .attr("stroke", chainColors[ci]).attr("stroke-width", ci === 3 ? 1.5 : 1.2).attr("stroke-linejoin", "round");
  });
  const xa = g.append("g").attr("transform", `translate(0,${p.y1})`)
    .call(d3.axisBottom(x).tickValues(xTicks).tickSize(2.5).tickPadding(1.5).tickFormat(d3.format("d")));
  const ya = g.append("g").attr("transform", `translate(${p.x0},0)`)
    .call(d3.axisLeft(y).tickValues(p.yTicks).tickSize(2.5).tickPadding(1.5).tickFormat(locale.format(p.fmt)));
  [xa, ya].forEach(a => {
    a.select(".domain").attr("stroke", "#000").attr("stroke-width", 1.1);
    a.selectAll(".tick line").attr("stroke", "#333").attr("stroke-width", 0.8);
    a.selectAll(".tick text").attr("fill", "#4d4d4d").attr("font-size", 6.4).attr("font-family", "Liberation Sans, Arial, sans-serif");
  });
  g.append("text").attr("x", (p.x0 + p.x1) / 2).attr("y", p.y0 - 3.5).attr("text-anchor", "middle")
    .attr("font-size", 6.4).attr("font-weight", "bold").attr("fill", "#1a1a1a").text(p.name);
});

// legend
const lg = svg.append("g");
lg.append("text").attr("x", 526).attr("y", 169).attr("font-size", 8.8).attr("fill", "#000").text("chain");
chains.forEach((c, i) => {
  const yy = 179 + i * 11;
  lg.append("line").attr("x1", 527.5).attr("x2", 537.5).attr("y1", yy).attr("y2", yy).attr("stroke", chainColors[i]).attr("stroke-width", 1.2);
  lg.append("text").attr("x", 541.5).attr("y", yy + 2.3).attr("font-size", 6.4).attr("fill", "#000").text(c);
});
</script></body></html>
